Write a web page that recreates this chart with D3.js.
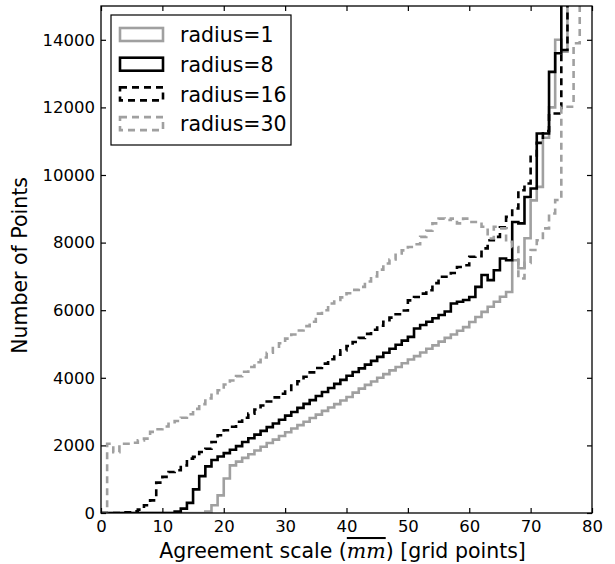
<!DOCTYPE html>
<html><head><meta charset="utf-8">
<script src="https://cdn.jsdelivr.net/npm/d3@7"></script>
<style>body{margin:0;background:#fff}</style>
</head><body>
<svg id="chart" width="615" height="564"></svg>
<script>
// Histogram counts per 1-grid-point bin (bin i spans [i, i+1)), 0..79
const r1 = [0,0,0,0,0,0,0,0,0,0,0,0,0,0,0,0,0,
  40,230,520,1020,1410,
  1520,1630,1740,1850,1960,2070,2170,2280,2390,2500,
  2600,2700,2810,2910,3020,3120,3220,3330,3430,3560,
  3680,3790,3890,4000,4110,4220,4320,4430,4540,4640,
  4750,4860,4960,5070,5180,5280,5390,5500,5650,5800,
  5950,6100,6250,6400,6540,7480,7240,8130,9250,9650,
  11100,12000,14000,13650,17000,19000,21000,23000];
const r8 = [0,0,0,0,0,0,0,0,0,0,0,0,
  40,130,300,700,1090,1380,1570,1670,1770,1870,
  1980,2100,2210,2320,2430,2540,2650,2760,2880,2990,
  3110,3230,3340,3460,3580,3700,3820,3940,4060,4170,
  4280,4390,4500,4620,4740,4860,4980,5100,5210,5460,
  5560,5660,5760,5860,5960,6200,6250,6300,6390,6690,
  7040,6890,7180,7530,7480,8610,8570,9350,9600,11230,
  11230,13050,13600,17000,19000,21000,23000,25000];
const r16 = [0,0,0,0,
  20,50,100,230,375,900,1070,1215,1265,1410,
  1610,1660,1805,1900,2100,2300,2450,2550,2700,2820,
  2940,3060,3180,3300,3420,3530,3640,3770,3900,4030,
  4160,4290,4420,4550,4680,4810,4940,5060,5180,5300,
  5420,5540,5660,5780,5880,5990,6290,6390,6490,6590,
  6800,6990,6990,7100,7280,7330,7580,7600,7830,8070,
  8170,8450,8760,9010,9550,9750,10580,10950,11300,11820,
  11820,13700,17000,19000,21000,23000];
const r30 = [0,
  2050,1800,2050,2050,2080,2150,2200,2400,2480,2560,
  2640,2720,2820,2920,3080,3220,3390,3500,3630,3800,
  3920,4050,4180,4320,4460,4600,4740,4880,5020,5160,
  5280,5400,5530,5660,5900,6000,6200,6300,6380,6500,
  6600,6690,6850,7000,7200,7380,7500,7680,7770,7870,
  7950,8170,8350,8570,8710,8670,8710,8570,8710,8610,
  8610,8470,8120,8470,8420,8020,7870,6940,7400,7780,
  8070,8420,8860,9260,12020,12020,13900,17000,19000];

const seriesNames = ["radius=1","radius=8","radius=16","radius=30"];
const xTicks = [0,10,20,30,40,50,60,70,80];
const yTicks = [0,2000,4000,6000,8000,10000,12000,14000];

const series = [
  {name: seriesNames[0], values: r1, color: "#a0a0a0", dash: null},
  {name: seriesNames[1], values: r8, color: "#000000", dash: null},
  {name: seriesNames[2], values: r16, color: "#000000", dash: "7,5"},
  {name: seriesNames[3], values: r30, color: "#a0a0a0", dash: "7,5"}
];

const W = 615, H = 564;
const m = {left: 101, right: 23, top: 6, bottom: 51};
const iw = W - m.left - m.right, ih = H - m.top - m.bottom;

const svg = d3.select("#chart");
const g = svg.append("g").attr("transform", `translate(${m.left},${m.top})`);

const x = d3.scaleLinear().domain([0, 80]).range([0, iw]);
const y = d3.scaleLinear().domain([0, 15000]).range([ih, 0]);

svg.append("defs").append("clipPath").attr("id", "clip")
  .append("rect").attr("x", 0).attr("y", 0).attr("width", iw).attr("height", ih);

const line = d3.line().x(d => x(d[0])).y(d => y(d[1])).curve(d3.curveStepAfter);

const plot = g.append("g").attr("clip-path", "url(#clip)");
series.forEach(s => {
  const pts = s.values.map((v, i) => [i, v]);
  pts.push([s.values.length, s.values[s.values.length - 1]]);
  plot.append("path").datum(pts)
    .attr("d", line)
    .attr("fill", "none")
    .attr("stroke", s.color)
    .attr("stroke-width", 2.6)
    .attr("stroke-dasharray", s.dash)
    .attr("stroke-linejoin", "miter");
});

const font = "'DejaVu Sans', sans-serif";
function styleAxis(sel, labels) {
  sel.select(".domain").remove();
  sel.selectAll(".tick line").attr("stroke", "#000").attr("stroke-width", 1.2);
  sel.selectAll(".tick text").attr("font-family", font).attr("font-size", 16.5).attr("fill", "#000");
  if (!labels) sel.selectAll(".tick text").remove();
}
const ax1 = g.append("g").attr("transform", `translate(0,${ih})`)
  .call(d3.axisBottom(x).tickValues(xTicks).tickSize(-5).tickPadding(7).tickFormat(d3.format("d")));
styleAxis(ax1, true);
const ax2 = g.append("g")
  .call(d3.axisTop(x).tickValues(xTicks).tickSize(-5).tickFormat(""));
styleAxis(ax2, false);
const ay1 = g.append("g")
  .call(d3.axisLeft(y).tickValues(yTicks).tickSize(-5).tickPadding(6).tickFormat(d3.format("d")));
styleAxis(ay1, true);
const ay2 = g.append("g").attr("transform", `translate(${iw},0)`)
  .call(d3.axisRight(y).tickValues(yTicks).tickSize(-5).tickFormat(""));
styleAxis(ay2, false);

g.append("rect").attr("x", 0).attr("y", 0).attr("width", iw).attr("height", ih)
  .attr("fill", "none").attr("stroke", "#000").attr("stroke-width", 1.3);

// axis labels
const xl = svg.append("text").attr("x", m.left + iw / 2 - 4).attr("y", 558)
  .attr("text-anchor", "middle").attr("font-family", font).attr("font-size", 20.5).attr("fill", "#000");
xl.append("tspan").text("Agreement scale (");
xl.append("tspan").attr("font-family", "'DejaVu Serif', serif").attr("font-style", "italic")
  .attr("text-decoration", "overline").text("mm");
xl.append("tspan").text(") [grid points]");

svg.append("text").attr("transform", `translate(27,${m.top + ih / 2 + 6}) rotate(-90)`)
  .attr("text-anchor", "middle").attr("font-family", font).attr("font-size", 20.5).attr("fill", "#000")
  .text("Number of Points");

// legend
const lg = svg.append("g").attr("transform", "translate(111,15)");
lg.append("rect").attr("x", 0).attr("y", 0).attr("width", 180).attr("height", 130)
  .attr("fill", "#fff").attr("stroke", "#000").attr("stroke-width", 1.2);
series.forEach((s, i) => {
  const cy = 20 + i * 29.7;
  lg.append("rect").attr("x", 9).attr("y", cy - 7).attr("width", 43).attr("height", 13)
    .attr("fill", "none").attr("stroke", s.color).attr("stroke-width", 2.6)
    .attr("stroke-dasharray", s.dash);
  lg.append("text").attr("x", 69).attr("y", cy).attr("dy", "0.35em")
    .attr("font-family", font).attr("font-size", 20.5).attr("fill", "#000").text(s.name);
});
</script>
</body></html>
